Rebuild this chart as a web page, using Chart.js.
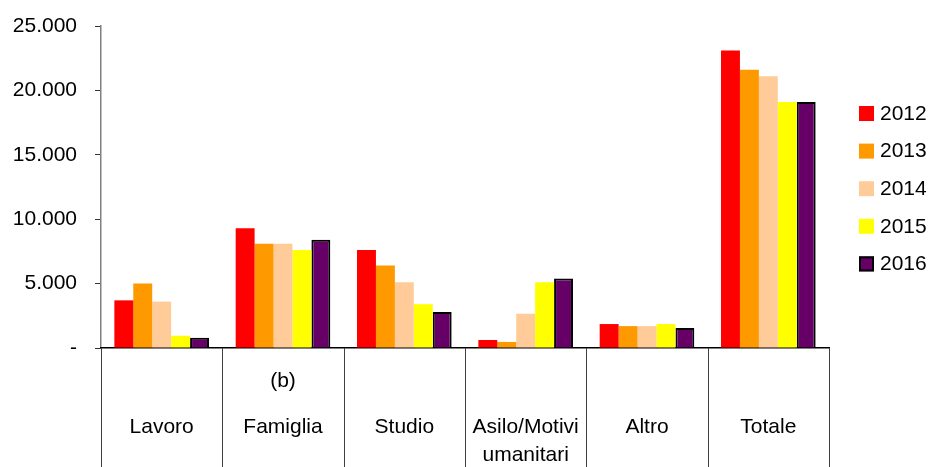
<!DOCTYPE html>
<html>
<head>
<meta charset="utf-8">
<script src="https://cdn.jsdelivr.net/npm/chart.js@4"></script>
<style>
  html, body { margin: 0; padding: 0; background: #fff; }
  #wrap { width: 930px; height: 467px; }
</style>
</head>
<body>
<div id="wrap"><canvas id="chart"></canvas></div>
<script>
// Permessi per motivo, valori per anno
const categories = [['Lavoro'], ['Famiglia'], ['Studio'], ['Asilo/Motivi', 'umanitari'], ['Altro'], ['Totale']];
const notes = ['', '(b)', '', '', '', ''];
const years = ['2012', '2013', '2014', '2015', '2016'];
const v2012 = [3700, 9300, 7600, 620, 1860, 23100];
const v2013 = [5000, 8100, 6400, 470, 1700, 21600];
const v2014 = [3600, 8100, 5100, 2660, 1700, 21100];
const v2015 = [950, 7600, 3400, 5100, 1860, 19100];
const v2016 = [800, 8400, 2800, 5400, 1550, 19100];
const yTicks = [0, 5000, 10000, 15000, 20000, 25000];

const colors = ['#ff0000', '#ff9900', '#ffcc99', '#ffff00', '#660066'];
const series = [v2012, v2013, v2014, v2015, v2016];
const FONT = { family: '"Liberation Sans", Arial, sans-serif', size: 21, lineHeight: 1.35 };

// table under the x axis: vertical separators between categories plus notes
const tablePlugin = {
    id: 'table',
    afterDraw(chart) {
        const ctx = chart.ctx;
        const x = chart.scales.x;
        const n = x.ticks.length;
        const half = (x.getPixelForValue(1) - x.getPixelForValue(0)) / 2;
        ctx.save();
        ctx.strokeStyle = '#404040';
        ctx.lineWidth = 1;
        for (let i = 0; i <= n; i++) {
            const px = Math.round(x.getPixelForValue(i) - half) + 0.5;
            ctx.beginPath();
            ctx.moveTo(px, x.top);
            ctx.lineTo(px, chart.height);
            ctx.stroke();
        }
        ctx.font = FONT.size + 'px ' + FONT.family;
        ctx.fillStyle = '#000';
        ctx.textAlign = 'center';
        ctx.textBaseline = 'middle';
        notes.forEach((t, i) => {
            if (t) ctx.fillText(t, x.getPixelForValue(i), x.top + 33);
        });
        ctx.restore();
    }
};

// legend on the right, one row per year
const yearLegend = {
    id: 'yearLegend',
    afterDraw(chart) {
        const ctx = chart.ctx;
        const left = chart.chartArea.right + 30;
        ctx.save();
        ctx.font = FONT.size + 'px ' + FONT.family;
        ctx.textBaseline = 'middle';
        ctx.textAlign = 'left';
        chart.data.datasets.forEach((ds, i) => {
            const top = 106 + i * 37.6;
            ctx.fillStyle = ds.backgroundColor;
            ctx.fillRect(left, top, 15, 15);
            if (ds.borderWidth) {
                ctx.strokeStyle = ds.borderColor;
                ctx.lineWidth = ds.borderWidth;
                ctx.strokeRect(left + 1, top + 1, 13, 13);
            }
            ctx.fillStyle = '#000';
            ctx.fillText(ds.label, left + 21, top + 8);
        });
        ctx.restore();
    }
};

const ctx = document.getElementById('chart').getContext('2d');
new Chart(ctx, {
    type: 'bar',
    data: {
        labels: categories,
        datasets: years.map((y, i) => ({
            label: y,
            data: series[i],
            backgroundColor: colors[i],
            borderColor: '#000',
            borderWidth: i === 4 ? 2 : 0,
            categoryPercentage: 0.78,
            barPercentage: 1
        }))
    },
    options: {
        responsive: true,
        maintainAspectRatio: false,
        animation: false,
        layout: { padding: { left: 0, top: 0, right: 101, bottom: 0 } },
        plugins: {
            tooltip: { enabled: false },
            legend: { display: false }
        },
        scales: {
            y: {
                min: 0,
                max: 25000,
                afterBuildTicks: axis => { axis.ticks = yTicks.map(v => ({ value: v })); },
                afterFit: axis => { axis.width = 101; axis.paddingTop = 26; },
                ticks: {
                    color: '#000',
                    font: FONT,
                    padding: 18,
                    callback: v => v === 0 ? '-' : (v / 1000) + '.000'
                },
                grid: { drawOnChartArea: false, drawTicks: true, tickLength: 6, color: '#333' },
                border: { color: '#808080', width: 1.5 }
            },
            x: {
                afterFit: axis => { axis.height = 119; },
                ticks: {
                    color: '#000',
                    font: FONT,
                    padding: 65,
                    autoSkip: false,
                    maxRotation: 0
                },
                grid: { offset: true, drawOnChartArea: false, drawTicks: false },
                border: { color: '#000', width: 1.5 }
            }
        }
    },
    plugins: [tablePlugin, yearLegend]
});
</script>
</body>
</html>
